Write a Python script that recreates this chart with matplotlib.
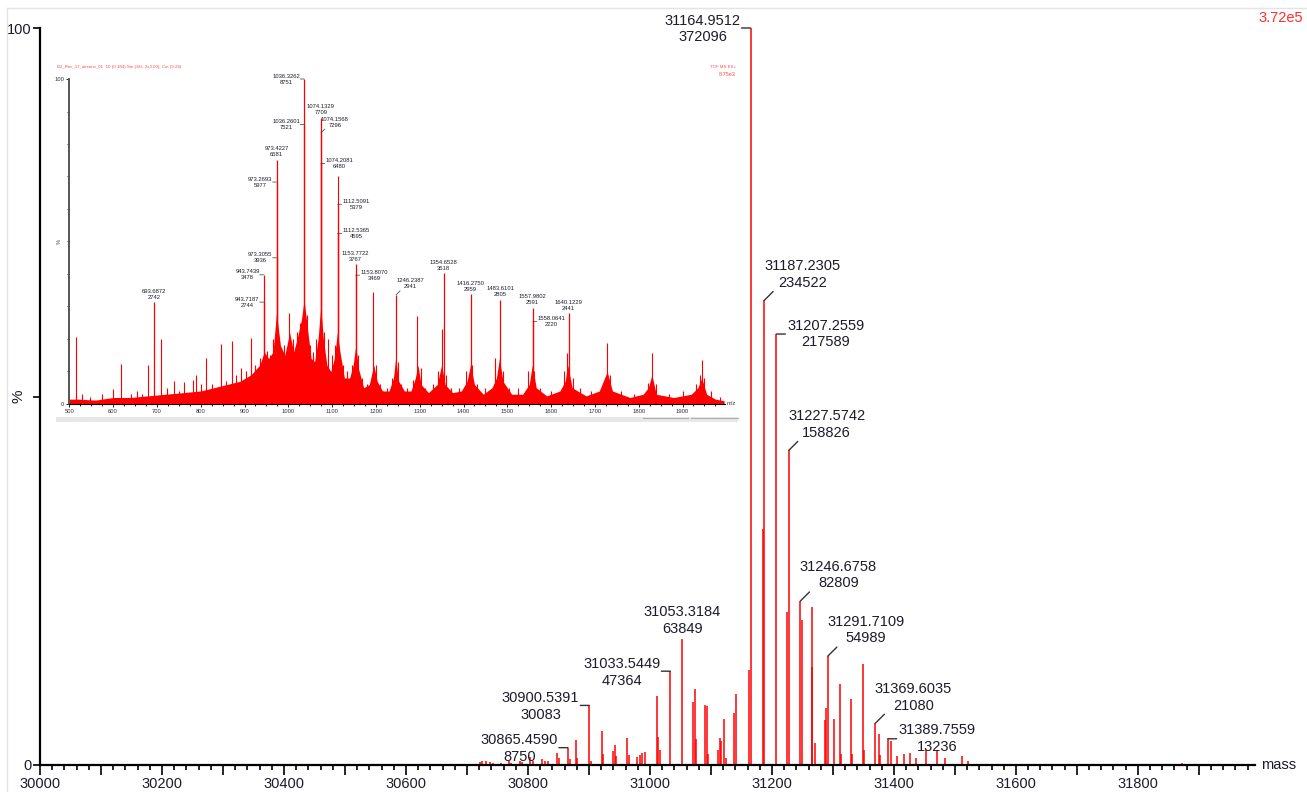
import matplotlib
matplotlib.use("Agg")
import matplotlib.pyplot as plt
from matplotlib.ticker import MultipleLocator, FuncFormatter
from matplotlib.patches import Rectangle
from matplotlib.lines import Line2D

plt.rcParams["font.family"] = ["Liberation Sans", "DejaVu Sans"]

# ---- main deconvoluted spectrum (mass, % of 3.72e5) ----
main_label_mass = [31164.9512, 31187.2305, 31207.2559, 31227.5742, 31246.6758, 31291.7109,
                   31369.6035, 31389.7559, 31053.3184, 31033.5449, 30900.5391, 30865.4590]
main_label_int = [372096, 234522, 217589, 158826, 82809, 54989,
                  21080, 13236, 63849, 47364, 30083, 8750]
main_label_style = ["left", "diag", "right", "diag", "diag", "diag",
                    "diag", "right", "top", "left", "left", "left"]

main_peak_mass = [30721, 30725, 30731, 30738, 30743, 30755, 30769, 30773, 30787, 30791,
                  30803, 30808, 30823, 30828, 30833, 30847, 30851, 30869, 30878, 30881,
                  30904, 30921, 30923, 30939, 30942, 30945, 30963, 30966, 30978, 30983,
                  30987, 30992, 31011, 31013, 31016, 31071, 31074, 31076, 31091, 31094,
                  31096, 31112, 31115, 31117, 31122, 31124, 31138, 31141, 31162, 31185,
                  31225, 31249, 31265, 31266.5, 31270, 31287, 31289, 31302, 31311, 31314,
                  31330, 31332, 31349, 31351, 31376, 31378, 31396, 31405, 31416, 31427,
                  31437, 31452, 31471, 31484, 31512, 31521, 31872]
main_peak_pct = [0.4, 0.5, 0.5, 0.4, 0.3, 0.3, 0.5, 0.3, 0.5, 0.4,
                 1.1, 0.5, 0.8, 0.6, 0.5, 1.6, 1.0, 0.8, 3.4, 1.0,
                 0.6, 4.6, 1.5, 1.9, 2.7, 1.2, 3.7, 1.3, 1.1, 1.4,
                 1.6, 1.7, 9.4, 3.8, 2.0, 8.6, 10.3, 3.5, 8.1, 8.0,
                 1.5, 2.0, 3.6, 3.2, 6.3, 1.0, 7.0, 9.6, 12.9, 32.0,
                 20.8, 19.7, 21.5, 13.3, 3.0, 6.1, 7.8, 6.3, 11.0, 1.5,
                 9.0, 1.5, 13.7, 2.0, 4.2, 1.4, 3.2, 1.2, 1.5, 1.6,
                 1.0, 2.1, 1.9, 0.9, 1.2, 0.5, 0.3]
main_max = 372096

# ---- inset ESI m/z spectrum (% of 8.75e3) ----
inset_label_mz = [1036.3262, 1074.1329, 1036.2601, 1074.1568, 973.4227, 1074.2081,
                  973.2693, 1112.5091, 1112.5365, 1153.7722, 973.3055, 943.7439,
                  1153.8070, 1246.2387, 1354.6528, 943.7187, 693.6872, 1416.2750,
                  1483.6101, 1557.9802, 1558.0641, 1640.1229]
inset_label_int = [8751, 7709, 7521, 7296, 6581, 6480, 5977, 5379, 4595, 3767, 3936, 3478,
                   3469, 2941, 3518, 2744, 2742, 2959, 2805, 2591, 2220, 2441]
inset_label_style = ["left", "top", "left", "diag", "top", "right", "left", "right",
                     "right", "top", "left", "left", "right", "diag", "top", "left",
                     "top", "top", "top", "top", "right", "top"]
inset_max = 8751

inset_peak_mz = [514.6, 530, 548, 575, 599, 617.3, 640, 654, 667, 680.4, 708.6, 722, 739,
                 750, 762.6, 783, 789, 800, 812, 825, 845.6, 858, 870.8, 880, 891.3, 903,
                 914.2, 925, 935, 950.7, 958, 965, 981, 990, 1001.7, 1010, 1019, 1027,
                 1042, 1050, 1057, 1063, 1082, 1091.4, 1100, 1106, 1112.45, 1118, 1125,
                 1135, 1145, 1160, 1168, 1180, 1194, 1200, 1210, 1216.9, 1225, 1236, 1250,
                 1258, 1270, 1284, 1294.5, 1302, 1312, 1330, 1342, 1350, 1360, 1372, 1390,
                 1405.7, 1420, 1430, 1450, 1472, 1490, 1505, 1525, 1548, 1562, 1575, 1600,
                 1629.5, 1637, 1650, 1665, 1690, 1717.7, 1728, 1735, 1760, 1790, 1822,
                 1829.7, 1840, 1870, 1900, 1930, 1940, 1943.8, 1950, 1965, 1985]
inset_peak_pct = [20.5, 3, 2, 3, 4.6, 12.3, 3, 4, 3, 12.1, 19.9, 5, 7,
                  4, 6.8, 7.5, 9, 6, 14.3, 6, 18.5, 7, 19.5, 9, 11, 10,
                  20.2, 12, 14, 16.3, 15, 20, 17, 18, 27.9, 20, 22, 25,
                  27.4, 18, 16, 20, 22, 19.9, 15, 18, 70, 14.6, 12,
                  10, 12, 15, 8, 6, 34.6, 12, 6, 4, 5, 8, 13,
                  6, 5, 7.5, 27, 11, 5, 6, 10, 23, 9, 5, 5,
                  10, 12, 6, 5, 14, 10, 5, 5, 10, 10, 5, 4,
                  10, 15.6, 8, 5, 4, 5, 18.9, 9, 4, 3, 6.6,
                  15.6, 6, 3, 4, 6, 9, 13.5, 8, 4, 2]

# rough outline of the unresolved base under the charge-state envelope
base_mz = [500, 520, 560, 600, 640, 680, 720, 760, 800, 830, 860, 890, 915, 935, 945, 955,
           965, 973, 982, 992, 1003, 1012, 1020, 1030, 1036, 1043, 1052, 1060, 1068, 1074,
           1080, 1088, 1097, 1105, 1112, 1118, 1128, 1140, 1148, 1154, 1160, 1172, 1185,
           1195, 1203, 1215, 1230, 1240, 1245, 1252, 1265, 1280, 1290, 1296, 1303, 1320,
           1340, 1350, 1358, 1375, 1395, 1408, 1416, 1425, 1445, 1465, 1475, 1482, 1490,
           1510, 1535, 1550, 1557, 1566, 1590, 1620, 1632, 1638, 1648, 1680, 1710, 1728,
           1740, 1780, 1810, 1822, 1830, 1840, 1880, 1920, 1935, 1944, 1955, 1975, 1995]
base_pct = [1.5, 1.5, 1.2, 2, 2, 2.5, 3, 3.5, 4, 5, 6, 7, 9, 12, 16, 14,
            16, 28, 18, 15, 22, 16, 20, 26, 32, 24, 14, 13, 20, 30,
            20, 12, 10, 14, 22, 16, 8, 8, 12, 18, 11, 5, 6,
            12, 7, 4, 4, 8, 14, 7, 4, 4, 8, 12, 6, 3.5,
            6, 12, 6, 3.5, 4, 7, 12, 6, 3, 5, 8, 14, 7,
            3, 3, 6, 12, 5, 2.5, 4, 7, 12, 5, 2.5, 4, 10,
            4, 2, 3, 5, 9, 3, 2, 3, 5, 8, 3, 1.5, 1]

W, H = 1307, 792
RED = "#ff0000"
INK = "#1c1c2a"


def px_box(x0, y_top, x1, y_bot):
    # pixel box (top-left origin) -> figure fraction rect
    return [x0 / W, 1 - y_bot / H, (x1 - x0) / W, (y_bot - y_top) / H]


def put_label(ax, x, y, text, style, fs, off, link, ink=INK, lw=1.0):
    ha = {"left": "right", "right": "left", "diag": "center", "top": "center"}[style]
    ax.annotate(text, xy=(x, y), xytext=off[style], textcoords="offset pixels",
                ha=ha, va="center", multialignment="center", fontsize=fs,
                color=ink, linespacing=1.25, annotation_clip=False, zorder=5)
    if link[style] is not None:
        ax.annotate("", xy=(x, y), xytext=link[style], textcoords="offset pixels",
                    annotation_clip=False,
                    arrowprops=dict(arrowstyle="-", color="#333333", lw=lw,
                                    shrinkA=0, shrinkB=0))


fig = plt.figure(figsize=(W / 100, H / 100), dpi=100)

# light frame of the screenshot
fig.add_artist(Line2D([7 / W, 1], [1 - 8 / H, 1 - 8 / H], color="#e4e4e4", lw=1))
fig.add_artist(Line2D([7 / W, 7 / W], [0, 1 - 8 / H], color="#e4e4e4", lw=1))

# ---- main axes ----
ax = fig.add_axes(px_box(40, 28, 1255, 765))
main_label_pct = [v / main_max * 100 for v in main_label_int]
ax.vlines(main_peak_mass, 0, main_peak_pct, color=RED, lw=1.1)
ax.vlines(main_label_mass, 0, main_label_pct, color=RED, lw=1.1)
ax.set_xlim(30000, 31992)
ax.set_ylim(0, 100)
for s in ["top", "right"]:
    ax.spines[s].set_visible(False)
for s in ["left", "bottom"]:
    ax.spines[s].set_linewidth(1.6)
ax.xaxis.set_major_locator(MultipleLocator(100))
ax.xaxis.set_minor_locator(MultipleLocator(20))
ax.xaxis.set_major_formatter(FuncFormatter(lambda v, p: f"{int(round(v))}" if round(v) % 200 == 0 else ""))
ax.set_yticks([0, 50, 100])
ax.set_yticklabels(["0", "", "100"])
ax.tick_params(axis="x", which="major", length=7, width=1.2, labelsize=10.5, colors="black",
               labelcolor=INK, pad=2)
ax.tick_params(axis="x", which="minor", length=3.5, width=1.2)
ax.tick_params(axis="y", length=5, width=1.2, labelsize=10.5, labelcolor=INK, pad=1)
ax.set_ylabel("%", fontsize=11, color=INK)
ax.yaxis.set_label_coords(-0.012, 0.5)
ax.text(1.005, 0, "mass", transform=ax.transAxes, ha="left", va="center",
        fontsize=10.5, color=INK)
fig.text(1303 / W, 1 - 18 / H, "3.72e5", ha="right", va="center", fontsize=10.5,
         color="#ff2d2d")

main_off = {"left": (-10, -1), "right": (11, 0), "diag": (38, 26), "top": (0, 18)}
main_link = {"left": (-9, 0), "right": (9, 0), "diag": (9, 9), "top": None}
for m, v, pct, st in zip(main_label_mass, main_label_int, main_label_pct, main_label_style):
    put_label(ax, m, pct, f"{m:.4f}\n{v}", st, 10.5, main_off, main_link)

# ---- inset axes ----
axi = fig.add_axes(px_box(69.3, 79, 725, 404))
axi.set_facecolor("white")
inset_label_pct = [v / inset_max * 100 for v in inset_label_int]
axi.fill_between(base_mz, 0, base_pct, color=RED, lw=0)
axi.vlines(inset_peak_mz, 0, inset_peak_pct, color=RED, lw=0.8)
axi.vlines(inset_label_mz, 0, inset_label_pct, color=RED, lw=0.9)
axi.set_xlim(500, 1997)
axi.set_ylim(0, 100)
for s in ["top", "right"]:
    axi.spines[s].set_visible(False)
axi.spines["left"].set_color("#555555")
axi.spines["left"].set_linewidth(1.4)
axi.spines["bottom"].set_linewidth(0.8)
axi.xaxis.set_major_locator(MultipleLocator(100))
axi.xaxis.set_minor_locator(MultipleLocator(25))
axi.set_yticks([0, 100])
axi.yaxis.set_minor_locator(MultipleLocator(10))
axi.tick_params(axis="both", which="major", length=2.5, width=0.6, labelsize=4.2,
                labelcolor="#333333", pad=1)
axi.tick_params(axis="both", which="minor", length=1.5, width=0.6)
axi.set_ylabel("%", fontsize=4.2, color="#444444", labelpad=0)
axi.yaxis.set_label_coords(-0.012, 0.5)
axi.text(1.002, 0, "m/z", transform=axi.transAxes, ha="left", va="center",
         fontsize=4.2, color="#333333")
fig.text(57 / W, 1 - 67 / H, "B2_Rec_17_deconv_01  10 (0.184) Sm (SG, 2x3.00); Cm (9:24)",
         ha="left", va="center", fontsize=3.2, color="#ff4d4d")
fig.text(736 / W, 1 - 67 / H, "TOF MS ES+", ha="right", va="center", fontsize=3.2,
         color="#ff4d4d")
fig.text(736 / W, 1 - 74 / H, "8.75e3", ha="right", va="center", fontsize=4,
         color="#ff4d4d")
# scroll bar strip under the inset
fig.add_artist(Rectangle((56 / W, 1 - 422 / H), 682 / W, 5 / H, transform=fig.transFigure,
                         facecolor="#e8e8e8", edgecolor="none"))
fig.add_artist(Line2D([643 / W, 688 / W], [1 - 418 / H, 1 - 418 / H], color="#b0b0b0", lw=0.8))
fig.add_artist(Line2D([691 / W, 738 / W], [1 - 418 / H, 1 - 418 / H], color="#b0b0b0", lw=0.8))

inset_off = {"left": (-4, 0), "right": (5, 0), "diag": (14, 11), "top": (0, 8)}
inset_link = {"left": (-4, 0), "right": (4, 0), "diag": (4, 4), "top": None}
for m, v, pct, st in zip(inset_label_mz, inset_label_int, inset_label_pct, inset_label_style):
    put_label(axi, m, pct, f"{m:.4f}\n{v}", st, 4.2, inset_off, inset_link, lw=0.5)

fig.savefig("out.png", dpi=100, facecolor="white")
